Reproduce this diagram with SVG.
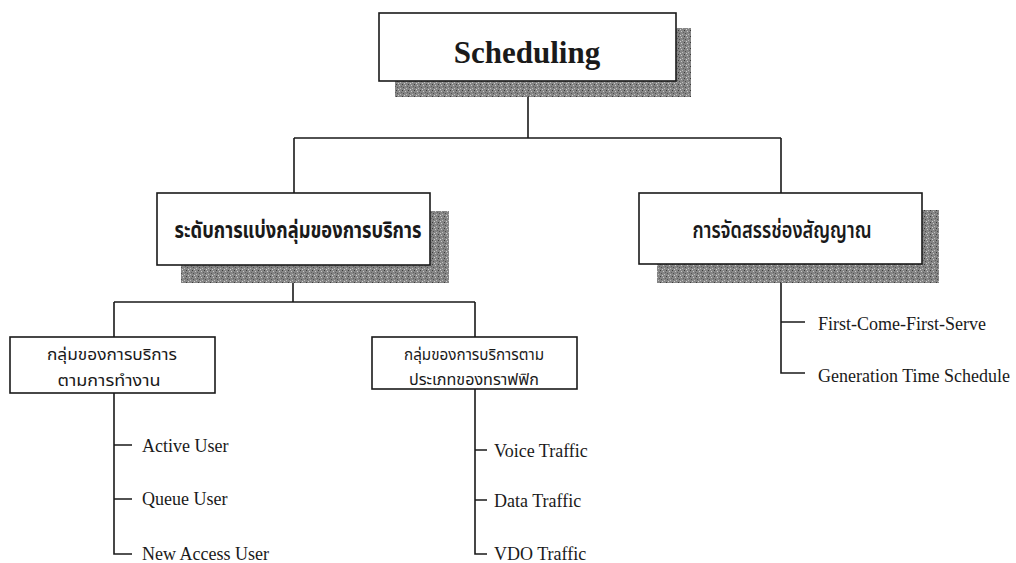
<svg xmlns="http://www.w3.org/2000/svg" width="1016" height="563" viewBox="0 0 1016 563">
<defs>
<pattern id="speck" width="6" height="6" patternUnits="userSpaceOnUse">
<rect width="6" height="6" fill="#858585"/>
<rect x="0" y="0" width="1" height="1" fill="#3c3c3c"/>
<rect x="3" y="1" width="1" height="1" fill="#c8c8c8"/>
<rect x="1" y="3" width="1" height="1" fill="#505050"/>
<rect x="4" y="4" width="1" height="1" fill="#bdbdbd"/>
<rect x="5" y="2" width="1" height="1" fill="#606060"/>
<rect x="2" y="5" width="1" height="1" fill="#d0d0d0"/>
</pattern>
</defs>
<style>
.box{fill:#fff;stroke:#1a1a1a;stroke-width:1.6}
.shadow{fill:url(#speck)}
.ln{fill:none;stroke:#1a1a1a;stroke-width:1.6}
.en{font-family:"Liberation Serif","Times New Roman",serif;font-size:18px;fill:#1a1a1a}
.th{font-family:"Noto Sans Thai","Loma","Garuda","DejaVu Sans","Noto Sans",sans-serif;fill:#1a1a1a;text-anchor:middle}
</style>
<rect width="1016" height="563" fill="#fff"/>
<g id="connectors">
<path class="ln" d="M528 97 V138 M294 138 H781 M294 138 V193 M781 138 V193"/>
<path class="ln" d="M293 283 V302 M114 302 H475 M114 302 V337 M475 302 V337"/>
<path class="ln" d="M781 283 V373 H805 M781 322 H805"/>
<path class="ln" d="M114 393 V554 H132 M114 445 H132 M114 499 H132"/>
<path class="ln" d="M475 389 V554 H487 M475 450 H487 M475 500 H487"/>
</g>
<g id="scheduling">
<rect class="shadow" x="395" y="28" width="296" height="69"/>
<rect class="box" x="379" y="13" width="297" height="68"/>
<text x="527" y="63" font-family="Liberation Serif,serif" font-weight="bold" font-size="31" text-anchor="middle" fill="#1a1a1a">Scheduling</text>
</g>
<g id="service-level">
<rect class="shadow" x="181" y="211" width="268" height="72"/>
<rect class="box" x="157" y="193" width="273" height="72"/>
<text class="th" x="298" y="238" font-size="23" font-weight="bold" textLength="247" lengthAdjust="spacingAndGlyphs">ระดับการแบ่งกลุ่มของการบริการ</text>
</g>
<g id="channel-allocation">
<rect class="shadow" x="657" y="210" width="282" height="73"/>
<rect class="box" x="639" y="193" width="283" height="71"/>
<text class="th" x="782" y="238" font-size="23" font-weight="600" textLength="179" lengthAdjust="spacingAndGlyphs">การจัดสรรช่องสัญญาณ</text>
</g>
<g id="group-operation">
<rect class="box" x="10" y="337" width="205" height="56"/>
<text class="th" x="112" y="360" font-size="16" textLength="130" lengthAdjust="spacingAndGlyphs">กลุ่มของการบริการ</text>
<text class="th" x="109" y="386" font-size="16" textLength="103" lengthAdjust="spacingAndGlyphs">ตามการทำงาน</text>
</g>
<g id="group-traffic">
<rect class="box" x="372" y="337" width="205" height="52"/>
<text class="th" x="474" y="360" font-size="16" textLength="140" lengthAdjust="spacingAndGlyphs">กลุ่มของการบริการตาม</text>
<text class="th" x="474" y="385" font-size="16" textLength="130" lengthAdjust="spacingAndGlyphs">ประเภทของทราฟฟิก</text>
</g>
<g id="leaves">
<text class="en" x="142" y="452">Active User</text>
<text class="en" x="142" y="505">Queue User</text>
<text class="en" x="142" y="560">New Access User</text>
<text class="en" x="494" y="457">Voice Traffic</text>
<text class="en" x="494" y="507">Data Traffic</text>
<text class="en" x="494" y="560">VDO Traffic</text>
<text class="en" x="818" y="330">First-Come-First-Serve</text>
<text class="en" x="818" y="382">Generation Time Schedule</text>
</g>
</svg>
